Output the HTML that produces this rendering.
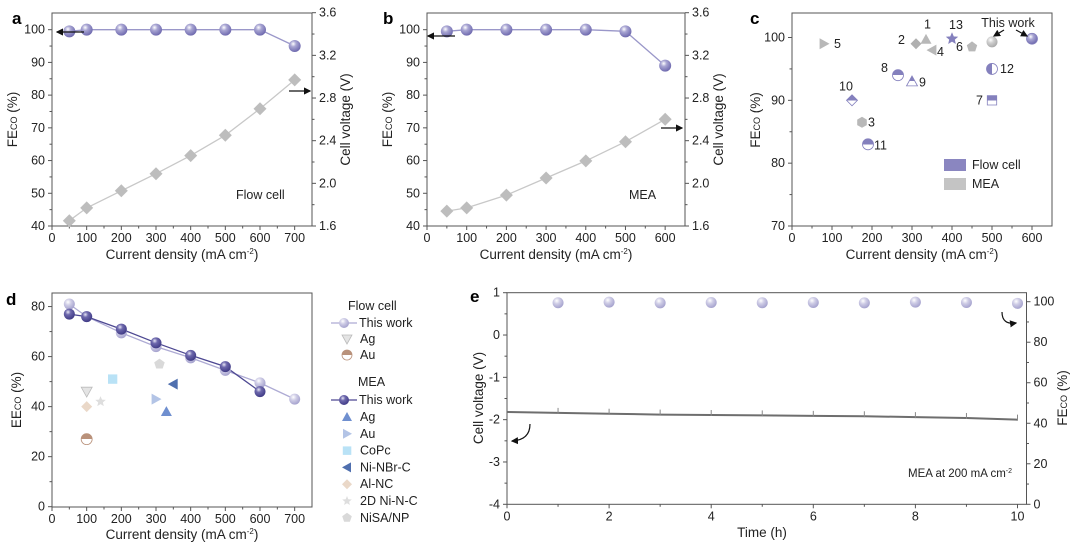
<!DOCTYPE html>
<html><head><meta charset="utf-8">
<style>
html,body{margin:0;padding:0;background:#fff;}
svg{display:block;font-family:"Liberation Sans","Noto Sans CJK SC",sans-serif;}
</style></head>
<body>
<svg id="fig" width="1080" height="547" viewBox="0 0 1080 547" xmlns="http://www.w3.org/2000/svg">
<defs>
<radialGradient id="sphP" cx="0.38" cy="0.32" r="0.7"><stop offset="0" stop-color="#ffffff"/><stop offset="0.35" stop-color="#a9a6d3"/><stop offset="1" stop-color="#6c67ad"/></radialGradient>
<radialGradient id="sphL" cx="0.38" cy="0.32" r="0.7"><stop offset="0" stop-color="#ffffff"/><stop offset="0.4" stop-color="#cfcde6"/><stop offset="1" stop-color="#a4a1cd"/></radialGradient>
<radialGradient id="sphD" cx="0.38" cy="0.32" r="0.7"><stop offset="0" stop-color="#e8e7f5"/><stop offset="0.35" stop-color="#6e69ad"/><stop offset="1" stop-color="#3f3a85"/></radialGradient>
<radialGradient id="sphG" cx="0.38" cy="0.32" r="0.7"><stop offset="0" stop-color="#ffffff"/><stop offset="0.4" stop-color="#cfcfcf"/><stop offset="1" stop-color="#a8a8a8"/></radialGradient>
<linearGradient id="halfTB" x1="0" y1="0" x2="0" y2="1"><stop offset="0.5" stop-color="#8480bd"/><stop offset="0.5" stop-color="#ffffff"/></linearGradient>
<linearGradient id="halfLR" x1="0" y1="0" x2="1" y2="0"><stop offset="0.5" stop-color="#8480bd"/><stop offset="0.5" stop-color="#ffffff"/></linearGradient>
<linearGradient id="halfAu" x1="0" y1="0" x2="0" y2="1"><stop offset="0.5" stop-color="#b9917a"/><stop offset="0.5" stop-color="#ffffff"/></linearGradient>
<marker id="ah" markerWidth="6" markerHeight="6" refX="5" refY="3" orient="auto"><path d="M0,0 L6,3 L0,6 z" fill="#111"/></marker>
</defs>
</svg>
<script>
// ---------- data ----------
// panel a (flow cell)
const aX = [50,100,200,300,400,500,600,700];
const aFE = [99.5,100,100,100,100,100,100,95];
const aV = [1.65,1.77,1.93,2.09,2.26,2.45,2.70,2.97];
// panel b (MEA)
const bX = [50,100,200,300,400,500,600];
const bFE = [99.5,100,100,100,100,99.5,89];
const bV = [1.74,1.77,1.89,2.05,2.21,2.39,2.60];
// panel c (literature comparison)
const cLabels = ['5','10','3','11','8','9','2','1','4','13','6','This work MEA','12','7','This work flow'];
const cX = [80,150,175,190,265,300,310,335,350,400,450,500,500,500,600];
const cY = [99,90,86.5,83,94,93,99,99.7,98,99.8,98.5,99.3,95,90,99.8];
const cShape = ['tri-r','diamond','hex','circ','circ','tri-u','diamond','tri-u','tri-l','star','pent','circ','circ','sq','circ'];
const cFill = ['#b8b8b8','url(#halfTB)','#b8b8b8','url(#halfTB)','url(#halfTB)','url(#halfTB)','#b0b0b0','#b8b8b8','#b8b8b8','#8480bd','#b8b8b8','url(#sphG)','url(#halfLR)','url(#halfTB)','url(#sphP)'];
// panel d (energy efficiency)
const dX1 = [50,100,200,300,400,500,600,700];
const dFlow = [81,76,69.5,64,59.5,54.5,49.5,43];
const dX2 = [50,100,200,300,400,500,600];
const dMEA = [77,76,71,65.5,60.5,56,46];
const dRefNames = ['Ag flow','Au flow','Ag MEA','Au MEA','CoPc','Ni-NBr-C','Al-NC','2D Ni-N-C','NiSA/NP'];
const dRefX = [100,100,330,300,175,350,100,140,310];
const dRefY = [46,27,38,43,51,49,40,42,57];
const dRefShape = ['tri-d','circ','tri-u','tri-r','sq','tri-l','diamond','star','pent'];
const dRefFill = ['#e4e4e4','url(#halfAu)','#6f8fcf','#b3c4e6','#b9e2f6','#4f6fae','#ead8c8','#dedede','#d9d9d9'];
// panel e (stability)
const eT = [0,1,2,3,4,5,6,7,8,9,10];
const eV = [-1.82,-1.84,-1.86,-1.88,-1.89,-1.90,-1.91,-1.92,-1.94,-1.96,-2.0];
const eFT = [1,2,3,4,5,6,7,8,9,10];
const eFE = [99.5,99.8,99.4,99.6,99.5,99.6,99.4,99.8,99.6,99.2];

// ---------- helpers ----------
const NS='http://www.w3.org/2000/svg';
const svg=document.getElementById('fig');
function el(tag,attrs,parent,text){const e=document.createElementNS(NS,tag);for(const k in attrs)e.setAttribute(k,attrs[k]);if(text!==undefined)e.textContent=text;(parent||svg).appendChild(e);return e;}
function lin(d0,d1,r0,r1){return v=>r0+(v-d0)*(r1-r0)/(d1-d0);}
function grp(name){const g=el('g',{});return g;}
function txt(g,x,y,s,opts,name){const t=el('text',Object.assign({x:x,y:y,'font-size':12.5,fill:'#222'},opts||{}),g,s);return t;}
function shape(g,kind,x,y,r,fill,stroke,name){
  let e;const s=stroke||'none';
  if(kind==='circ'){e=el('circle',{cx:x,cy:y,r:r,fill:fill,stroke:s,'stroke-width':0.8},g);}
  else{
    let p;
    if(kind==='diamond')p=[[0,-r],[r,0],[0,r],[-r,0]];
    else if(kind==='sq')p=[[-r*0.85,-r*0.85],[r*0.85,-r*0.85],[r*0.85,r*0.85],[-r*0.85,r*0.85]];
    else if(kind==='tri-u')p=[[0,-r],[r,r*0.8],[-r,r*0.8]];
    else if(kind==='tri-d')p=[[0,r],[r,-r*0.8],[-r,-r*0.8]];
    else if(kind==='tri-r')p=[[r,0],[-r*0.8,-r],[-r*0.8,r]];
    else if(kind==='tri-l')p=[[-r,0],[r*0.8,-r],[r*0.8,r]];
    else if(kind==='hex'){p=[];for(let i=0;i<6;i++){const a=Math.PI/6+i*Math.PI/3;p.push([r*Math.cos(a),r*Math.sin(a)]);}}
    else if(kind==='pent'){p=[];for(let i=0;i<5;i++){const a=-Math.PI/2+i*2*Math.PI/5;p.push([r*Math.cos(a),r*Math.sin(a)]);}}
    else if(kind==='star'){p=[];for(let i=0;i<10;i++){const a=-Math.PI/2+i*Math.PI/5;const rr=i%2?r*0.45:r;p.push([rr*Math.cos(a),rr*Math.sin(a)]);}}
    e=el('polygon',{points:p.map(q=>(x+q[0]).toFixed(1)+','+(y+q[1]).toFixed(1)).join(' '),fill:fill,stroke:s,'stroke-width':0.8},g);
  }
  
  
  return e;
}
function frame(g,x0,y0,x1,y1){const r=el('rect',{x:x0,y:y0,width:x1-x0,height:y1-y0,fill:'none',stroke:'#555','stroke-width':1},g);}
function xAxis(g,sx,yb,ticks,minor){
  ticks.forEach(v=>{el('line',{x1:sx(v),x2:sx(v),y1:yb,y2:yb+4,stroke:'#555'},g);txt(g,sx(v),yb+16,String(v),{'text-anchor':'middle'},'x-tick-label');});
  (minor||[]).forEach(v=>el('line',{x1:sx(v),x2:sx(v),y1:yb,y2:yb+2.5,stroke:'#555'},g));
}
function yAxis(g,sy,xa,ticks,minor,side,fmt){
  const d=side==='r'?1:-1;
  ticks.forEach(v=>{el('line',{x1:xa,x2:xa+4*d,y1:sy(v),y2:sy(v),stroke:'#555'},g);txt(g,xa+7*d,sy(v)+4,fmt?fmt(v):String(v),{'text-anchor':side==='r'?'start':'end'},side==='r'?'right-tick-label':'y-tick-label');});
  (minor||[]).forEach(v=>el('line',{x1:xa,x2:xa+2.5*d,y1:sy(v),y2:sy(v),stroke:'#555'},g));
}
function vtitle(g,x,y,parts,name){
  const t=el('text',{x:0,y:0,transform:`translate(${x},${y}) rotate(-90)`,'text-anchor':'middle','font-size':13.5,fill:'#222'},g);
  
  parts.forEach(p=>{el('tspan',p[1]?{'font-size':9}:{},t,p[0]);});
}
function polyline(g,xs,ys,sx,sy,color,name,w){const l=el('polyline',{points:xs.map((v,i)=>sx(v).toFixed(1)+','+sy(ys[i]).toFixed(1)).join(' '),fill:'none',stroke:color,'stroke-width':w||1.3},g);}
function arrow(g,x1,y1,x2,y2,name){const l=el('line',{x1:x1,y1:y1,x2:x2,y2:y2,stroke:'#111','stroke-width':1.2,'marker-end':'url(#ah)'},g);}
const range=(a,b,s)=>{const r=[];for(let v=a;v<=b+1e-9;v+=s)r.push(+v.toFixed(4));return r;};

// ---------- panel a & b ----------
function panelFE(name,letter,lx,x0,x1,xmax,xTicks,xs,fe,vv,note,notex,arrL,arrR){
  const g=grp(name);
  const y0=13,y1=226;
  const sx=lin(0,xmax,x0,x1), sy=lin(40,105.1,226,13), sv=lin(1.6,3.6,226,12.7);
  frame(g,x0,y0,x1,y1);
  txt(g,lx,24,letter,{'font-size':17,'font-weight':'bold',fill:'#000'},'panel-letter');
  xAxis(g,sx,y1,xTicks,range(50,xmax-1,100));
  yAxis(g,sy,x0,[40,50,60,70,80,90,100],range(45,100,10),'l');
  yAxis(g,sv,x1,[1.6,2.0,2.4,2.8,3.2,3.6],range(1.8,3.4,0.4),'r',v=>v.toFixed(1));
  txt(g,(x0+x1)/2,259,'',{'text-anchor':'middle','font-size':13.5},'x-axis-title').innerHTML='Current density (mA cm<tspan font-size="8" dy="-5">-2</tspan><tspan dy="5">)</tspan>';
  vtitle(g,x0-35,(y0+y1)/2,[['FE'],['CO',1],[' (%)']],'y-axis-title');
  vtitle(g,x1+38,(y0+y1)/2,[['Cell voltage (V)']],'right-axis-title');
  polyline(g,xs,vv,sx,sv,'#c8c8c8','voltage-line');
  xs.forEach((v,i)=>shape(g,'diamond',sx(v),sv(vv[i]),6.5,'#bdbdbd',null,'voltage-point'));
  polyline(g,xs,fe,sx,sy,'#9a97c9','fe-line');
  xs.forEach((v,i)=>shape(g,'circ',sx(v),sy(fe[i]),6,'url(#sphP)',null,'fe-point'));
  txt(g,notex,199,note,{'font-size':12.5},'condition-label');
  arrow(g,arrL[0],arrL[1],arrL[2],arrL[1],'fe-axis-arrow');
  arrow(g,arrR[0],arrR[1],arrR[2],arrR[1],'voltage-axis-arrow');
}
panelFE('panel-a','a',12,52,312,750,[0,100,200,300,400,500,600,700],aX,aFE,aV,'Flow cell',236,[84,32,57],[289,91,310]);
panelFE('panel-b','b',383,427,685,650,[0,100,200,300,400,500,600],bX,bFE,bV,'MEA',629,[455,36,428],[661,128,682]);

// ---------- panel c ----------
(function(){
  const g=grp('panel-c');
  const x0=792,x1=1052,y0=13,y1=226;
  const sx=lin(0,650,x0,x1), sy=lin(70,103.9,226,13);
  frame(g,x0,y0,x1,y1);
  txt(g,750,24,'c',{'font-size':17,'font-weight':'bold',fill:'#000'},'panel-letter');
  xAxis(g,sx,y1,[0,100,200,300,400,500,600],range(50,600,100));
  yAxis(g,sy,x0,[70,80,90,100],[75,85,95],'l');
  txt(g,922,259,'',{'text-anchor':'middle','font-size':13.5},'x-axis-title').innerHTML='Current density (mA cm<tspan font-size="8" dy="-5">-2</tspan><tspan dy="5">)</tspan>';
  vtitle(g,760,120,[['FE'],['CO',1],[' (%)']],'y-axis-title');
  const lab={'5':[10,4],'10':[-13,-10],'3':[6,4],'11':[6,5],'8':[-17,-3],'9':[7,5],'2':[-18,0],'1':[-2,-11],'4':[5,6],'13':[-3,-10],'6':[-16,4],'12':[8,4],'7':[-16,4]};
  cX.forEach((v,i)=>{
    const purple=cFill[i].indexOf('half')>=0||cFill[i]==='url(#sphP)'||cFill[i]==='#8480bd';
    shape(g,cShape[i],sx(v),sy(cY[i]),5.5,cFill[i],purple?'#8480bd':null,'ref-point-'+cLabels[i].toLowerCase().replace(/ /g,'-'));
    const o=lab[cLabels[i]];
    if(o)txt(g,sx(v)+o[0],sy(cY[i])+o[1],cLabels[i],{'font-size':12.5},'ref-number');
  });
  txt(g,1008,27,'This work',{'text-anchor':'middle','font-size':12.5},'this-work-label');
  arrow(g,1004,30,994,36,'this-work-arrow-mea');
  arrow(g,1016,30,1027,36,'this-work-arrow-flow');
  const l1=el('rect',{x:944,y:159,width:22,height:12,fill:'#8a86c0'},g);
  txt(g,972,169,'Flow cell',{'font-size':12.5},'legend-entry');
  const l2=el('rect',{x:944,y:178,width:22,height:12,fill:'#c4c4c4'},g);
  txt(g,972,188,'MEA',{'font-size':12.5},'legend-entry');
})();

// ---------- panel d ----------
(function(){
  const g=grp('panel-d');
  const x0=52,x1=312,y0=293,y1=507;
  const sx=lin(0,750,x0,x1), sy=lin(0,85.3,506.7,293.3);
  frame(g,x0,y0,x1,y1);
  txt(g,6,305,'d',{'font-size':17,'font-weight':'bold',fill:'#000'},'panel-letter');
  xAxis(g,sx,y1,[0,100,200,300,400,500,600,700],range(50,700,100));
  yAxis(g,sy,x0,[0,20,40,60,80],range(10,70,20),'l');
  txt(g,182,539,'',{'text-anchor':'middle','font-size':13.5},'x-axis-title').innerHTML='Current density (mA cm<tspan font-size="8" dy="-5">-2</tspan><tspan dy="5">)</tspan>';
  vtitle(g,21,400,[['EE'],['CO',1],[' (%)']],'y-axis-title');
  polyline(g,dX1,dFlow,sx,sy,'#aeabd4','flow-line');
  polyline(g,dX2,dMEA,sx,sy,'#4d4892','mea-line');
  dX1.forEach((v,i)=>shape(g,'circ',sx(v),sy(dFlow[i]),5.5,'url(#sphL)',null,'flow-point'));
  dX2.forEach((v,i)=>shape(g,'circ',sx(v),sy(dMEA[i]),5.5,'url(#sphD)',null,'mea-point'));
  dRefX.forEach((v,i)=>shape(g,dRefShape[i],sx(v),sy(dRefY[i]),5.5,dRefFill[i],dRefShape[i]==='tri-d'?'#bbb':(dRefShape[i]==='circ'?'#b9917a':null),'ref-'+dRefNames[i].toLowerCase().replace(/[ \/]/g,'-')));
  // legend
  const L=grp('panel-d-legend');
  txt(L,348,310,'Flow cell',{'font-size':12.5},'legend-heading');
  el('line',{x1:331,x2:357,y1:323,y2:323,stroke:'#aeabd4','stroke-width':1.2},L);
  shape(L,'circ',344,323,5,'url(#sphL)',null,'legend-marker');
  txt(L,359,327,'This work',{'font-size':12.5},'legend-entry');
  shape(L,'tri-d',347,339,5,'#e4e4e4','#bbb','legend-marker');txt(L,360,343,'Ag',{'font-size':12.5},'legend-entry');
  shape(L,'circ',347,355,5,'url(#halfAu)','#b9917a','legend-marker');txt(L,360,359,'Au',{'font-size':12.5},'legend-entry');
  txt(L,358,386,'MEA',{'font-size':12.5},'legend-heading');
  el('line',{x1:331,x2:357,y1:400,y2:400,stroke:'#4d4892','stroke-width':1.2},L);
  shape(L,'circ',344,400,5,'url(#sphD)',null,'legend-marker');
  txt(L,359,404,'This work',{'font-size':12.5},'legend-entry');
  const names=['Ag','Au','CoPc','Ni-NBr-C','Al-NC','2D Ni-N-C','NiSA/NP'];
  names.forEach((n,k)=>{const yy=417+k*16.8;shape(L,dRefShape[k+2],347,yy,5,dRefFill[k+2],null,'legend-marker');txt(L,360,yy+4,n,{'font-size':12.5},'legend-entry');});
})();

// ---------- panel e ----------
(function(){
  const g=grp('panel-e');
  const x0=507,x1=1026.5,y0=292.7,y1=504.3;
  const sx=lin(0,10,507,1017.5), sy=lin(-4,1,504.3,292.7), sf=lin(0,100,504.3,301.7);
  frame(g,x0,y0,x1,y1);
  txt(g,470,302,'e',{'font-size':17,'font-weight':'bold',fill:'#000'},'panel-letter');
  xAxis(g,sx,y1,[0,2,4,6,8,10],[1,3,5,7,9]);
  yAxis(g,sy,x0,[-4,-3,-2,-1,0,1],[-3.5,-2.5,-1.5,-0.5,0.5],'l');
  yAxis(g,sf,x1,[0,20,40,60,80,100],[10,30,50,70,90],'r');
  txt(g,762,537,'Time (h)',{'text-anchor':'middle','font-size':13.5},'x-axis-title');
  vtitle(g,483,398,[['Cell voltage (V)']],'y-axis-title');
  vtitle(g,1067,398,[['FE'],['CO',1],[' (%)']],'right-axis-title');
  polyline(g,eT,eV,sx,sy,'#6e6e6e','voltage-trace',2);
  eT.forEach((v,i)=>{if(i>0){const s=el('line',{x1:sx(v),x2:sx(v),y1:sy(eV[i])-5,y2:sy(eV[i])+1,stroke:'#888','stroke-width':1},g);}});
  eFT.forEach((v,i)=>shape(g,'circ',sx(v),sf(eFE[i]),5.5,'url(#sphL)',null,'fe-point'));
  txt(g,960,477,'',{'text-anchor':'middle','font-size':11.5},'condition-label').innerHTML='MEA at 200 mA cm<tspan font-size="7" dy="-4">-2</tspan>';
  const p1=el('path',{d:'M530,424 Q530,440 512,441',fill:'none',stroke:'#111','stroke-width':1.2,'marker-end':'url(#ah)'},g);
  
  const p2=el('path',{d:'M1002,312 Q1002,325 1016,323',fill:'none',stroke:'#111','stroke-width':1.2,'marker-end':'url(#ah)'},g);
  
})();
</script>
</body></html>
